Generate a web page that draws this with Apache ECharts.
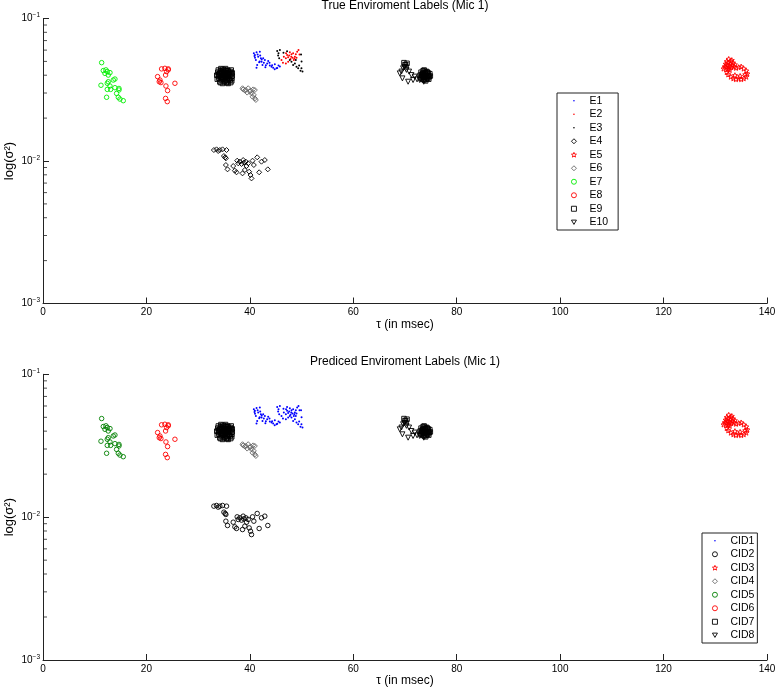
<!DOCTYPE html>
<html><head><meta charset="utf-8">
<script src="https://cdn.jsdelivr.net/npm/echarts@6/dist/echarts.min.js"></script>
<style>html,body{margin:0;padding:0;background:#fff}#c{width:776px;height:692px}</style>
</head><body><div id="c"></div>
<script>
// ---------- data ----------
const xTicks = [0, 20, 40, 60, 80, 100, 120, 140];
const yTicks = [0.001, 0.01, 0.1];
const minorTickVals = [0.002,0.003,0.004,0.005,0.006,0.007,0.008,0.009,0.02,0.03,0.04,0.05,0.06,0.07,0.08,0.09];

const titleTop = 'True Enviroment Labels (Mic 1)';
const titleBottom = 'Prediced Enviroment Labels (Mic 1)';
const xName = 'τ (in msec)';
const yName = 'log(σ²)';

// E1 blue dots
const E1 = [[40.77,0.0570],[41.93,0.0585],[41.61,0.0540],[41.16,0.0511],[41.42,0.0472],[42.26,0.0498],[42.90,0.0511],[43.35,0.0484],[43.86,0.0467],[44.51,0.0452],[45.15,0.0447],[45.54,0.0467],[42.58,0.0526],[41.80,0.0493],[42.45,0.0472],[43.54,0.0504],[44.19,0.0459],[44.83,0.0477],[40.97,0.0555],[41.29,0.0452],[42.13,0.0526],[41.0,0.053],[41.5,0.056],[42.0,0.055],[42.7,0.049],[43.1,0.047],[43.8,0.049],[44.3,0.047],[44.8,0.044],[45.3,0.045],[41.9,0.050],[42.3,0.0515],[43.0,0.0455],[40.9,0.0545],[41.3,0.058],[45.8,0.046]];
// E2 red dots
const E2 = [[46.12,0.0511],[46.57,0.0540],[46.96,0.0526],[47.21,0.0555],[47.60,0.0549],[48.05,0.0561],[48.37,0.0570],[48.70,0.0540],[49.15,0.0585],[49.41,0.0601],[47.86,0.0520],[47.41,0.0498],[48.50,0.0511],[49.02,0.0531],[46.96,0.0484],[48.25,0.0531],[48.89,0.0561],[47.73,0.0579],[47.0,0.057],[48.0,0.054],[48.6,0.0525],[47.4,0.0535],[49.6,0.056],[46.4,0.049]];
// E3 black dots
const E3 = [[45.28,0.0591],[45.54,0.0570],[45.80,0.0601],[45.47,0.0549],[45.67,0.0526],[48.05,0.0498],[48.70,0.0484],[49.02,0.0459],[49.34,0.0447],[49.79,0.0429],[50.18,0.0424],[48.37,0.0472],[49.53,0.0467],[47.73,0.0511],[48.89,0.0511],[49.98,0.0447],[46.5,0.0575],[47.2,0.0590],[49.9,0.0560],[50.0,0.0500]];
// E4 black diamonds (low cluster)
const E4 = [[33.04,0.01194],[33.56,0.01207],[33.88,0.01175],[34.20,0.01194],[34.72,0.01207],[35.49,0.01194],[34.98,0.01084],[35.23,0.01061],[35.36,0.01044],[35.36,0.00937],[35.68,0.00874],[36.78,0.00922],[37.10,0.00855],[37.42,0.00833],[37.55,0.01005],[37.75,0.00963],[38.07,0.00989],[38.39,0.00953],[38.71,0.01016],[38.84,0.00973],[39.23,0.00989],[39.36,0.00922],[39.03,0.00865],[38.58,0.00819],[39.68,0.00963],[39.87,0.00841],[40.13,0.00797],[40.32,0.00755],[40.52,0.01005],[40.77,0.00937],[41.42,0.01061],[41.80,0.00833],[42.25,0.00989],[42.89,0.01016],[43.47,0.00874]];
// E5 red stars
const E5 = [[131.8,0.046],[132.0,0.048],[132.2,0.050],[132.3,0.047],[132.5,0.049],[132.6,0.052],[132.7,0.046],[132.9,0.048],[133.0,0.050],[133.1,0.0455],[133.3,0.047],[133.4,0.049],[133.6,0.046],[132.4,0.044],[132.8,0.0435],[131.6,0.0445],[133.8,0.0475],[132.1,0.0455],[133.2,0.051],[132.6,0.0445],[134.0,0.045],[134.5,0.0455],[135.0,0.046],[135.5,0.0445],[136.0,0.043],[136.2,0.041],[136.0,0.039],[135.5,0.038],[135.0,0.0375],[134.5,0.038],[134.0,0.0375],[133.5,0.038],[133.0,0.039],[132.5,0.0405],[132.2,0.042],[135.8,0.0405],[134.8,0.0395],[133.8,0.040]];
// E6 grey diamonds
const E6 = [[38.71,0.0318],[39.23,0.0315],[39.68,0.0324],[40.13,0.0312],[40.64,0.0318],[40.97,0.0315],[39.48,0.0302],[40.32,0.0298],[40.77,0.0291],[40.97,0.0275],[41.16,0.0268],[40.00,0.0307],[39.03,0.0312],[40.52,0.0282],[38.58,0.0324]];
// E7 green circles
const E7 = [[11.34,0.0490],[11.66,0.0431],[12.17,0.0436],[12.43,0.0424],[11.98,0.0412],[12.62,0.0401],[12.95,0.0417],[13.91,0.0376],[13.59,0.0370],[12.62,0.0360],[12.43,0.0351],[11.21,0.0340],[12.95,0.0336],[13.91,0.0327],[12.43,0.0318],[13.08,0.0318],[14.69,0.0323],[14.69,0.0315],[14.23,0.0298],[12.30,0.0280],[14.56,0.0280],[14.88,0.0272],[15.52,0.0265]];
// E8 red circles
const E8 = [[22.93,0.0443],[23.57,0.0447],[24.22,0.0443],[23.90,0.0424],[23.70,0.0401],[22.16,0.0391],[22.48,0.0360],[22.80,0.0355],[25.51,0.0351],[23.77,0.0336],[24.09,0.0312],[23.70,0.0275],[24.03,0.0261],[22.61,0.0370],[24.22,0.0436]];
// E9 black squares
const E9 = [[33.6,0.040],[33.8,0.042],[34.0,0.038],[34.1,0.041],[34.3,0.043],[34.4,0.039],[34.5,0.037],[34.6,0.041],[34.8,0.044],[34.9,0.040],[35.0,0.036],[35.1,0.038],[35.2,0.042],[35.3,0.040],[35.4,0.043],[35.5,0.037],[35.6,0.039],[35.7,0.041],[35.8,0.035],[35.9,0.038],[36.0,0.042],[36.1,0.040],[36.2,0.037],[36.3,0.039],[36.4,0.041],[36.5,0.038],[34.2,0.036],[34.7,0.035],[35.4,0.0355],[33.9,0.0395],[36.6,0.0395],[35.0,0.0435],[34.5,0.0425],[35.8,0.043],
  [33.7,0.0375],[33.9,0.0435],[34.0,0.0405],[34.2,0.0415],[34.4,0.0445],[34.6,0.0385],[34.8,0.0375],[34.9,0.0425],[35.1,0.0405],[35.2,0.0365],[35.3,0.0445],[35.5,0.0415],[35.6,0.0435],[35.7,0.0365],[35.9,0.0405],[36.0,0.0375],[36.2,0.0425],[36.3,0.0355],[36.4,0.0435],[36.6,0.0415],[34.1,0.0395],[34.7,0.0395],[35.3,0.0385],[35.9,0.0415],[36.5,0.0365],[34.3,0.0355],[35.0,0.0415],[35.6,0.0355],
  [72.9,0.040],[73.1,0.042],[73.2,0.038],[73.4,0.041],[73.5,0.043],[73.6,0.039],[73.7,0.037],[73.8,0.041],[73.9,0.0425],[74.0,0.039],[74.1,0.0375],[74.2,0.040],[74.3,0.042],[74.4,0.038],[74.5,0.040],[74.7,0.039],[74.8,0.041],[73.3,0.0395],[74.0,0.0415],[74.6,0.0375],
  [73.0,0.0385],[73.2,0.0405],[73.4,0.0375],[73.5,0.0415],[73.7,0.0435],[73.8,0.0385],[74.0,0.0365],[74.2,0.0425],[74.3,0.0385],[74.5,0.0415],[74.6,0.0395],[74.9,0.0395],[73.9,0.0395],[73.6,0.0405],
  [69.8,0.049],[70.0,0.0475],[70.2,0.046],[70.4,0.0485]];
// E10 black down-triangles
const E10 = [[68.99,0.0412],[69.50,0.0380],[70.28,0.0436],[70.79,0.0424],[71.24,0.0401],[70.60,0.0360],[71.56,0.0370],[71.88,0.0391],[72.33,0.0374],[69.63,0.0447],[70.15,0.0472],[72.85,0.0370],[73.62,0.0360],[73.18,0.0391],[69.31,0.0424],[69.9,0.0455]];

// predicted clusters
const CID1 = E1.concat(E2, E3);
const CID2 = E4;
const CID3 = E5;
const CID4 = E6;
const CID5 = E7;
const CID6 = E8;
const CID7 = E9;
const CID8 = E10;

// ---------- styles ----------
const STAR = 'path://M0,-10L2.6,-3.6L9.5,-3.1L4.2,1.4L5.9,8.1L0,4.5L-5.9,8.1L-4.2,1.4L-9.5,-3.1L-2.6,-3.6Z';
const DTRI = 'path://M-5,-4.3L5,-4.3L0,4.3Z';
const DOT_ICON = 'path://M0,0M10,10M3.4,5a1.6,1.6 0 1,0 3.2,0a1.6,1.6 0 1,0 -3.2,0Z';
const FONT = 'Liberation Sans, Arial, Helvetica, sans-serif';

function mk(name, data, gi, symbol, size, color, hollow) {
  return {
    name: name, type: 'scatter', xAxisIndex: gi, yAxisIndex: gi,
    data: data, symbol: symbol, symbolSize: size,
    itemStyle: hollow ? {color: 'rgba(0,0,0,0)', borderColor: color, borderWidth: 0.9, opacity: 1}
                      : {color: color, opacity: 1},
    emphasis: {disabled: true}, animation: false
  };
}

const series = [
  mk('E1', E1, 0, 'circle', 2, '#0000ff', false),
  mk('E2', E2, 0, 'circle', 2, '#ff0000', false),
  mk('E3', E3, 0, 'circle', 2, '#000000', false),
  mk('E4', E4, 0, 'diamond', 5, '#000000', true),
  mk('E5', E5, 0, STAR, 5, '#ff0000', true),
  mk('E6', E6, 0, 'diamond', 5, '#666666', true),
  mk('E7', E7, 0, 'circle', 4.5, '#00ee00', true),
  mk('E8', E8, 0, 'circle', 4.5, '#ff0000', true),
  mk('E9', E9, 0, 'rect', 4.5, '#000000', true),
  mk('E10', E10, 0, DTRI, 5, '#000000', true),
  mk('CID1', CID1, 1, 'circle', 2, '#0000ff', false),
  mk('CID2', CID2, 1, 'circle', 4.5, '#000000', true),
  mk('CID3', CID3, 1, STAR, 5, '#ff0000', true),
  mk('CID4', CID4, 1, 'diamond', 5, '#666666', true),
  mk('CID5', CID5, 1, 'circle', 4.5, '#008000', true),
  mk('CID6', CID6, 1, 'circle', 4.5, '#ff0000', true),
  mk('CID7', CID7, 1, 'rect', 4.5, '#000000', true),
  mk('CID8', CID8, 1, DTRI, 5, '#000000', true)
];
// minor ticks of the log axes
[0, 1].forEach(function (gi) {
  series.push({
    type: 'scatter', xAxisIndex: gi, yAxisIndex: gi, silent: true, clip: false,
    data: minorTickVals.map(function (v) { return [xTicks[0], v]; }),
    symbol: 'rect', symbolSize: [4, 1], symbolOffset: [2, 0],
    itemStyle: {color: '#222'}, z: 5, animation: false
  });
});

function yLabel(v) {
  const e = Math.round(Math.log10(v));
  return '{b|10}{s|' + (e < 0 ? '\u2212' : '') + Math.abs(e) + '}';
}

function xAxis(gi) {
  return {
    type: 'value', gridIndex: gi, min: xTicks[0], max: xTicks[xTicks.length - 1], interval: 20,
    name: xName, nameLocation: 'middle', nameGap: 12,
    nameTextStyle: {fontFamily: FONT, fontSize: 12, color: '#000'},
    axisLine: {show: true, onZero: false, lineStyle: {color: '#222', width: 1}},
    axisTick: {show: true, inside: true, length: 6, lineStyle: {color: '#222'}},
    axisLabel: {fontFamily: FONT, fontSize: 10, color: '#000', margin: 4},
    splitLine: {show: false}
  };
}
function yAxis(gi) {
  return {
    type: 'log', logBase: 10, gridIndex: gi, min: yTicks[0], max: yTicks[yTicks.length - 1], splitNumber: 2,
    name: yName, nameLocation: 'middle', nameGap: 27, nameMoveOverlap: false,
    nameTextStyle: {fontFamily: FONT, fontSize: 13, color: '#000'},
    axisLine: {show: true, lineStyle: {color: '#222', width: 1}},
    axisTick: {show: true, inside: true, length: 6, lineStyle: {color: '#222'}},
    axisLabel: {
      formatter: yLabel, margin: 3,
      rich: {
        b: {fontFamily: FONT, fontSize: 10, color: '#000'},
        s: {fontFamily: FONT, fontSize: 6.5, color: '#000', verticalAlign: 'top', padding: [0, 0, 6, 0]}
      }
    },
    splitLine: {show: false}
  };
}

function legendData(names, dotNames) {
  return names.map(function (n) {
    return dotNames.indexOf(n) >= 0 ? {name: n, icon: DOT_ICON} : {name: n};
  });
}

const legendCommon = {
  orient: 'vertical', backgroundColor: '#fff', borderColor: '#222', borderWidth: 1, borderRadius: 0,
  itemWidth: 5, itemHeight: 5, itemGap: 0, selectedMode: false,
  itemStyle: {borderWidth: 0.9},
  textStyle: {fontFamily: FONT, fontSize: 10.5, color: '#000', lineHeight: 13.5, padding: [0, 0, 0, 8]}
};

const gridCommon = {outerBoundsMode: 'none', containLabel: false};

const chart = echarts.init(document.getElementById('c'), null, {renderer: 'canvas'});
chart.setOption({
  backgroundColor: '#fff',
  animation: false,
  title: [
    {text: titleTop, left: 405, top: 0, textAlign: 'center', padding: 0,
     textStyle: {fontFamily: FONT, fontSize: 12, fontWeight: 'normal', color: '#000'}},
    {text: titleBottom, left: 405, top: 356, textAlign: 'center', padding: 0,
     textStyle: {fontFamily: FONT, fontSize: 12, fontWeight: 'normal', color: '#000'}}
  ],
  grid: [
    Object.assign({left: 43, top: 18.5, width: 724, height: 285}, gridCommon),
    Object.assign({left: 43, top: 374.3, width: 724, height: 285.7}, gridCommon)
  ],
  xAxis: [xAxis(0), xAxis(1)],
  yAxis: [yAxis(0), yAxis(1)],
  legend: [
    Object.assign({}, legendCommon, {data: legendData(['E1','E2','E3','E4','E5','E6','E7','E8','E9','E10'], ['E1','E2','E3']),
      left: 557, top: 93, padding: [1, 10, 1, 14]}),
    Object.assign({}, legendCommon, {data: legendData(['CID1','CID2','CID3','CID4','CID5','CID6','CID7','CID8'], ['CID1']),
      left: 702, top: 533, padding: [1, 3, 1, 10]})
  ],
  series: series
});
</script>
</body></html>
